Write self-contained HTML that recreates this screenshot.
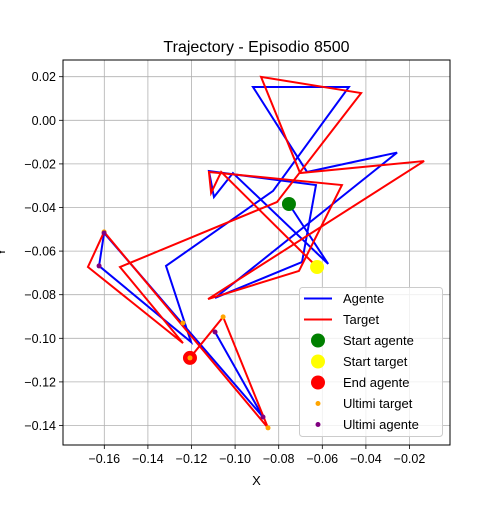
<!DOCTYPE html>
<html><head><meta charset="utf-8"><style>
body{margin:0;background:#fff;}
svg text{font-family:"Liberation Sans","DejaVu Sans",sans-serif;}
</style></head><body>
<svg id="chart" width="500" height="500" xmlns="http://www.w3.org/2000/svg"></svg>
<script>
const agentX=[-0.0753,-0.0573,-0.1010,-0.1097,-0.1120,-0.0629,-0.0693,-0.1092,-0.0257,-0.0670,-0.0918,-0.0478,-0.0826,-0.1317,-0.1202,-0.1624,-0.1601,-0.0872,-0.1092];
const agentY=[-0.0384,-0.0659,-0.0242,-0.0352,-0.0233,-0.0297,-0.0650,-0.0815,-0.0148,-0.0237,0.0153,0.0153,-0.0324,-0.0668,-0.1017,-0.0668,-0.0517,-0.1361,-0.0971];
const targetX=[-0.0624,-0.1064,-0.1110,-0.1120,-0.0510,-0.0707,-0.1124,-0.0133,-0.0702,-0.0881,-0.0422,-0.0808,-0.1528,-0.1239,-0.1675,-0.1601,-0.0849,-0.1055,-0.1207];
const targetY=[-0.0673,-0.0237,-0.0333,-0.0237,-0.0297,-0.0691,-0.0820,-0.0187,-0.0242,0.0199,0.0125,-0.0375,-0.0673,-0.1022,-0.0673,-0.0512,-0.1411,-0.0902,-0.1090];
const lastTargetX=[-0.1601,-0.1207,-0.1055,-0.0849,-0.1239];
const lastTargetY=[-0.0512,-0.1090,-0.0902,-0.1411,-0.0930];
const lastAgentX=[-0.1624,-0.1092,-0.0872,-0.1601];
const lastAgentY=[-0.0668,-0.0971,-0.1361,-0.0517];
const startAgent=[-0.0753,-0.0384];
const startTarget=[-0.0624,-0.0673];
const endAgent=[-0.1207,-0.1090];
const xTicks=[-0.16,-0.14,-0.12,-0.10,-0.08,-0.06,-0.04,-0.02];
const yTicks=[0.02,0.00,-0.02,-0.04,-0.06,-0.08,-0.10,-0.12,-0.14];

const L=63,R=450,T=60,B=445;
const X=v=>104.3+(v+0.16)*2180;
const Y=v=>120.3-v*2180;
const svg=document.getElementById('chart');
const NS='http://www.w3.org/2000/svg';
function mk(tag,at,parent){const e=document.createElementNS(NS,tag);for(const k in at)e.setAttribute(k,at[k]);(parent||svg).appendChild(e);return e;}

const grid=mk('g',{});


xTicks.forEach(t=>{
  const l=mk('line',{x1:X(t),x2:X(t),y1:T,y2:B,stroke:'#b0b0b0','stroke-width':0.8},grid);
  
  
  const tk=mk('line',{x1:X(t),x2:X(t),y1:B,y2:B+4,stroke:'#000','stroke-width':0.8});
  
  
  const tx=mk('text',{x:X(t),y:B+18,'text-anchor':'middle','font-size':'12.5'});
  tx.textContent=t.toFixed(2).replace('-','\u2212');
  
  
});
yTicks.forEach(t=>{
  const l=mk('line',{x1:L,x2:R,y1:Y(t),y2:Y(t),stroke:'#b0b0b0','stroke-width':0.8},grid);
  
  
  const tk=mk('line',{x1:L-4,x2:L,y1:Y(t),y2:Y(t),stroke:'#000','stroke-width':0.8});
  
  
  const tx=mk('text',{x:L-7,y:Y(t)+4.5,'text-anchor':'end','font-size':'12.5'});
  tx.textContent=t.toFixed(2).replace('-','\u2212');
  
  
});

function poly(xs,ys,color,name){
  const p=mk('polyline',{points:xs.map((v,i)=>X(v)+','+Y(ys[i])).join(' '),fill:'none',stroke:color,'stroke-width':2,'stroke-linejoin':'miter'});
  
  
}
poly(agentX,agentY,'#0000ff','agent-line');
poly(targetX,targetY,'#ff0000','target-line');
function dot(x,y,r,color,name){
  const c=mk('circle',{cx:X(x),cy:Y(y),r:r,fill:color});
  
  
}
dot(startAgent[0],startAgent[1],7,'#008000','start-agent-marker');
dot(startTarget[0],startTarget[1],7,'#ffff00','start-target-marker');
dot(endAgent[0],endAgent[1],7,'#ff0000','end-agent-marker');
lastTargetX.forEach((v,i)=>dot(v,lastTargetY[i],2.5,'#ffa500','last-target-point'));
lastAgentX.forEach((v,i)=>dot(v,lastAgentY[i],2.5,'#800080','last-agent-point'));

const frame=mk('rect',{x:L,y:T,width:R-L,height:B-T,fill:'none',stroke:'#000','stroke-width':1});



const title=mk('text',{x:256.5,y:52,'text-anchor':'middle','font-size':'16'});
title.textContent='Trajectory - Episodio 8500';


const xl=mk('text',{x:256.5,y:485,'text-anchor':'middle','font-size':'13'});
xl.textContent='X';


const yl=mk('text',{x:0,y:0,'text-anchor':'middle','font-size':'13',transform:'translate(5,252) rotate(-90)'});
yl.textContent='Y';



const lg=mk('g',{});


mk('rect',{x:299.5,y:287.5,width:143,height:149,rx:3,fill:'#fff','fill-opacity':0.8,stroke:'#cccccc'},lg);
const entries=[['Agente','line','#0000ff'],['Target','line','#ff0000'],['Start agente','big','#008000'],['Start target','big','#ffff00'],['End agente','big','#ff0000'],['Ultimi target','small','#ffa500'],['Ultimi agente','small','#800080']];
entries.forEach((e,i)=>{
  const y=298.5+i*21;
  const g=mk('g',{},lg);
  
  
  if(e[1]==='line')mk('line',{x1:304,x2:332,y1:y,y2:y,stroke:e[2],'stroke-width':2},g);
  else mk('circle',{cx:318,cy:y,r:e[1]==='big'?7:2.5,fill:e[2]},g);
  const t=mk('text',{x:343,y:y+4.5,'font-size':'13'},g);
  t.textContent=e[0];
});
</script>
</body></html>
